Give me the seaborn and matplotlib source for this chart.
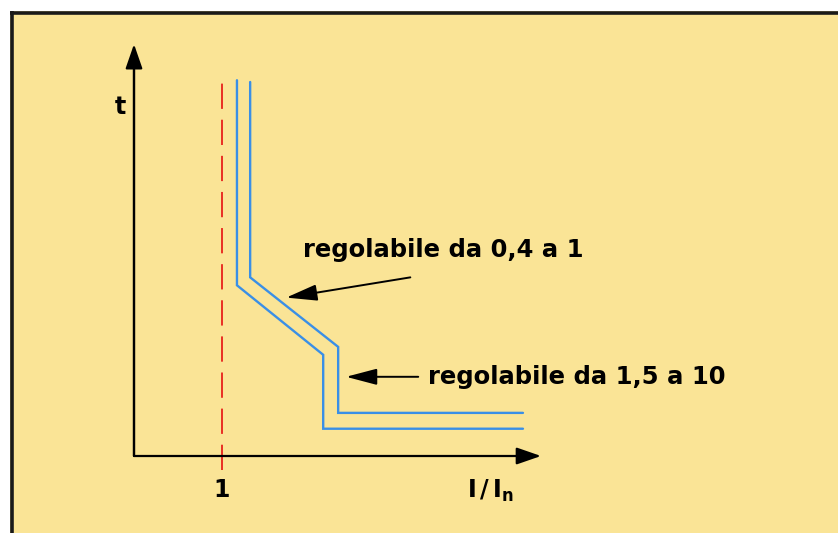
import pandas as pd
import seaborn as sns
import matplotlib.pyplot as plt
from matplotlib.patches import Rectangle
from matplotlib.lines import Line2D

# curve points in units of I/In (x) and relative time (y)
inner_x = [1.17, 1.17, 2.15, 2.15, 4.42]
inner_y = [4.27, 1.94, 1.15, 0.31, 0.31]
outer_x = [1.32, 1.32, 2.32, 2.32, 4.42]
outer_y = [4.25, 2.03, 1.24, 0.49, 0.49]
rated_x = 1.0
rated_y = [-0.16, 4.27]
x_max = 4.625
y_max = 4.6
labels = ["regolabile da 0,4 a 1", "regolabile da 1,5 a 10"]

YELLOW = "#FAE496"
BLUE = "#3A8FE6"
RED = "#E8201A"

df = pd.DataFrame({
    "x": inner_x + outer_x,
    "y": inner_y + outer_y,
    "curva": ["inner"] * len(inner_x) + ["outer"] * len(outer_x),
})

sns.set_theme(style="white")
plt.rcParams['font.family'] = ['DejaVu Sans']
plt.rcParams['text.color'] = 'black'

fig = plt.figure(figsize=(8.38, 5.33), dpi=100, facecolor="white")
# yellow panel with black border at top and left
fig.patches.append(Rectangle((10 / 838, 0), 1, 1 - 11 / 533, transform=fig.transFigure,
                             facecolor=YELLOW, edgecolor="none", zorder=-10))
fig.lines.append(Line2D([10 / 838, 1], [1 - 12.5 / 533] * 2, transform=fig.transFigure,
                        color="#1a1a1a", lw=2.6, zorder=-5, solid_capstyle="butt"))
fig.lines.append(Line2D([11.5 / 838] * 2, [0, 1 - 11 / 533], transform=fig.transFigure,
                        color="#1a1a1a", lw=2.6, zorder=-5, solid_capstyle="butt"))

ax = fig.add_axes([0, 0, 1, 1])
ax.set_xlim(-134 / 88, (838 - 134) / 88)
ax.set_ylim(-(533 - 456) / 88, 456 / 88)
ax.set_axis_off()

sns.lineplot(data=df, x="x", y="y", hue="curva", palette=[BLUE, BLUE],
             sort=False, estimator=None, legend=False, lw=1.7, ax=ax)
for line in ax.lines:
    line.set_solid_joinstyle("miter")

ax.plot([rated_x, rated_x], rated_y, color=RED, lw=1.3, linestyle=(0, (14, 6)))

# axes with arrows
head = dict(arrowstyle="-|>,head_length=15,head_width=5.2", color="black",
            lw=1.6, mutation_scale=1, shrinkA=0, shrinkB=0)
ax.annotate("", xy=(0, y_max + 0.08), xytext=(0, 0), arrowprops=head)
ax.annotate("", xy=(x_max, 0), xytext=(0, 0), arrowprops=head)
ax.plot([0, 0], [0, y_max], color="black", lw=1.6, solid_capstyle="butt")

ax.text(-0.16, 3.97, "t", fontsize=17, fontweight="bold", ha="center", va="center", color="black")
ax.text(rated_x, -0.39, "1", fontsize=17, fontweight="bold", ha="center", va="center", color="black")
ax.text(4.05, -0.40, r"$\mathbf{I\,/\,I_n}$", fontsize=17, ha="center", va="center", color="black")

# annotations
note = dict(arrowstyle="-|>,head_length=19,head_width=5", color="black",
            lw=1.4, mutation_scale=1, shrinkA=0, shrinkB=0)
ax.annotate("", xy=(1.73, 1.80), xytext=(3.14, 2.03), arrowprops=note)
ax.annotate("", xy=(2.41, 0.90), xytext=(3.23, 0.90), arrowprops=note)
ax.text(1.92, 2.34, labels[0], fontsize=17.5, fontweight="bold", ha="left", va="center", color="black")
ax.text(3.34, 0.90, labels[1], fontsize=17.5, fontweight="bold", ha="left", va="center", color="black")

fig.savefig("out.png", dpi=100, facecolor="white")
